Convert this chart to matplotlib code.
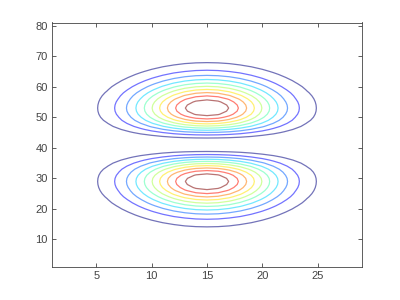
import numpy as np
import matplotlib
matplotlib.use('Agg')
import matplotlib.pyplot as plt

# grid (matrix indices, like matlab contour(Z))
x_idx = np.arange(1, 30)
y_idx = np.arange(1, 82)

# two-lobe mode: gaussian across x, v^2*exp(-v^2/v0^2) along y
x_center = 15.0
x_sigma = 4.5
y_zero = 41.0
y_peak = 12.0

# 10 evenly spaced contour levels (fraction of peak)
level_frac = np.arange(1, 11) / 11.0

X, Y = np.meshgrid(x_idx, y_idx)
V = Y - y_zero
Z = np.exp(-(X - x_center) ** 2 / (2 * x_sigma ** 2)) * (V / y_peak) ** 2 * np.exp(1 - (V / y_peak) ** 2)
levels = level_frac * Z.max()

# jet colours, washed out a bit like the reference
jet = plt.get_cmap('jet')
cols = [jet(i / 9.0) for i in range(10)]
cols = [tuple(0.55 * np.array(c[:3]) + 0.45) for c in cols]

plt.rcParams['font.family'] = ['Liberation Sans', 'DejaVu Sans']

fig = plt.figure(figsize=(4, 3), dpi=100)
ax = fig.add_axes([0.13, 0.11, 0.775, 0.815])
ax.contour(X, Y, Z, levels=levels, colors=cols, linewidths=0.9)

ax.set_xlim(1, 29)
ax.set_ylim(1, 81)
ax.set_xticks([5, 10, 15, 20, 25])
ax.set_yticks([10, 20, 30, 40, 50, 60, 70, 80])
ax.tick_params(direction='in', top=True, right=True, length=3, width=0.6,
               labelsize=8, colors='#444444', pad=3)
for s in ax.spines.values():
    s.set_linewidth(0.6)
    s.set_color('#444444')

fig.savefig('out.png', dpi=100)
